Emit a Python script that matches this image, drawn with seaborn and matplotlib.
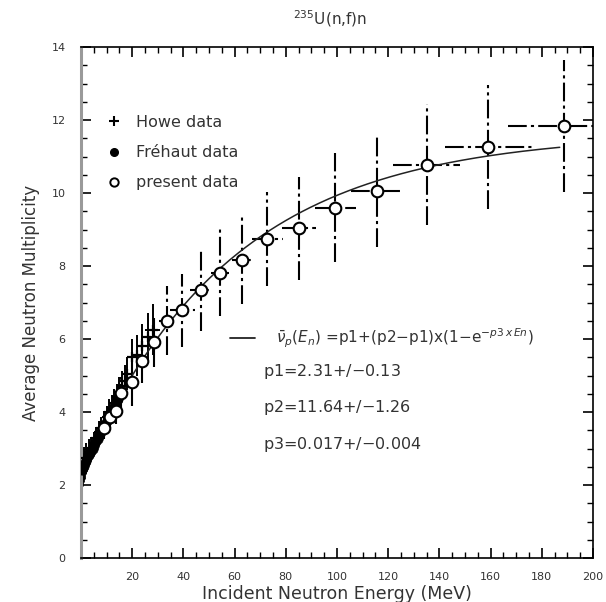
import numpy as np
import pandas as pd
import matplotlib
matplotlib.use("Agg")
import matplotlib.pyplot as plt
from matplotlib.lines import Line2D
from matplotlib.ticker import MultipleLocator
import seaborn as sns

# ---------------- data ----------------
present_E = [9.0, 11.5, 13.6, 15.6, 19.9, 24.0, 28.7, 33.4, 39.6, 46.7, 54.2, 63.0,
             72.8, 85.3, 99.4, 115.6, 135.0, 159.1, 188.8]
present_nu = [3.55, 3.85, 4.02, 4.51, 4.81, 5.40, 5.92, 6.50, 6.79, 7.33, 7.82, 8.16,
              8.74, 9.03, 9.60, 10.06, 10.78, 11.27, 11.84]
present_dE = [0.8, 1.0, 1.2, 1.3, 1.5, 2.0, 2.5, 3.0, 5.0, 4.0, 3.5, 4.0,
              6.0, 6.6, 8.0, 10.0, 13.0, 17.0, 22.0]
present_dnu = [0.30, 0.30, 0.35, 0.45, 0.65, 0.60, 0.70, 0.95, 1.00, 1.10, 1.20, 1.20,
               1.30, 1.40, 1.50, 1.55, 1.65, 1.70, 1.80]

howe_E = [1.0, 2.0, 3.0, 4.0, 5.0, 6.0, 7.0, 8.0, 9.0, 10.0, 11.0, 12.0, 13.0, 14.0,
          15.0, 16.0, 17.0, 18.0, 20.0, 22.0, 24.0, 26.0, 28.0]
howe_nu = [2.60, 2.75, 2.90, 3.02, 3.15, 3.30, 3.45, 3.55, 3.70, 3.85, 4.00, 4.12, 4.25,
           4.40, 4.55, 4.70, 4.85, 5.05, 5.50, 5.55, 5.80, 6.05, 6.25]
howe_dE = [0.5, 0.5, 0.5, 0.5, 0.6, 0.6, 0.7, 0.7, 0.8, 0.8, 0.9, 0.9, 1.0, 1.0,
           1.1, 1.1, 1.2, 1.2, 1.5, 1.5, 2.0, 2.5, 3.0]
howe_dnu = [0.45, 0.40, 0.35, 0.30, 0.30, 0.30, 0.30, 0.30, 0.32, 0.32, 0.35, 0.35, 0.38,
            0.38, 0.40, 0.42, 0.45, 0.45, 0.50, 0.55, 0.60, 0.65, 0.70]

frehaut_E = [0.3, 0.6, 1.0, 1.5, 2.0, 2.5, 3.0, 3.5, 4.0, 4.5, 5.0, 5.5, 6.0, 6.5, 7.0,
             7.5, 8.0, 8.5, 9.0, 9.5, 10.0, 10.5, 11.0, 11.5, 12.0, 12.5, 13.0, 13.5,
             14.0, 14.5]
frehaut_nu = [2.42, 2.47, 2.52, 2.60, 2.66, 2.73, 2.81, 2.87, 2.94, 3.00, 3.08, 3.14, 3.21,
              3.27, 3.35, 3.41, 3.48, 3.55, 3.62, 3.68, 3.76, 3.82, 3.88, 3.96, 4.02,
              4.08, 4.16, 4.22, 4.29, 4.36]
frehaut_dnu = [0.45, 0.40, 0.35, 0.30, 0.28, 0.25, 0.22, 0.20, 0.20, 0.18, 0.18, 0.18,
               0.18, 0.18, 0.18, 0.18, 0.18, 0.18, 0.18, 0.20, 0.20, 0.20, 0.20, 0.22,
               0.22, 0.22, 0.25, 0.25, 0.25, 0.25]

# fit parameters shown on the chart
p1, p2, p3 = 2.31, 11.64, 0.017
fit_E = np.linspace(0.0, 187.0, 300)
fit_nu = p1 + (p2 - p1) * (1 - np.exp(-p3 * fit_E))

x_ticks = [20, 40, 60, 80, 100, 120, 140, 160, 180, 200]
y_ticks = [0, 2, 4, 6, 8, 10, 12, 14]

# ---------------- figure ----------------
sns.set_theme(style="ticks")
plt.rcParams['font.family'] = ['DejaVu Sans']
plt.rcParams['mathtext.fontset'] = 'dejavusans'

fig = plt.figure(figsize=(6.06, 6.02), dpi=100)
ax = fig.add_axes([81 / 606, 1 - 558 / 602, (593 - 81) / 606, (558 - 47) / 602])

txt = '#333333'

# fit curve
sns.lineplot(x=fit_E, y=fit_nu, ax=ax, color='#222222', lw=1.1, zorder=3, legend=False)

# Frehaut data
fr = pd.DataFrame({'E': frehaut_E, 'nu': frehaut_nu, 'dnu': frehaut_dnu})
ax.errorbar(fr.E, fr.nu, yerr=fr.dnu, fmt='none', ecolor='black', elinewidth=2.0, zorder=2)
sns.scatterplot(data=fr, x='E', y='nu', ax=ax, color='black', marker='o', s=45,
                edgecolor='black', zorder=4, legend=False)

# Howe data
hw = pd.DataFrame({'E': howe_E, 'nu': howe_nu, 'dE': howe_dE, 'dnu': howe_dnu})
ax.errorbar(hw.E, hw.nu, xerr=hw.dE, yerr=hw.dnu, fmt='none', ecolor='black',
            elinewidth=1.4, zorder=2)
sns.scatterplot(data=hw, x='E', y='nu', ax=ax, color='black', marker='+', s=55,
                linewidth=1.6, zorder=4, legend=False)

# present data
pr = pd.DataFrame({'E': present_E, 'nu': present_nu, 'dE': present_dE, 'dnu': present_dnu})
eb = ax.errorbar(pr.E, pr.nu, xerr=pr.dE, yerr=pr.dnu, fmt='none', ecolor='black',
                 elinewidth=1.5, zorder=2)
for lc in eb[2]:
    lc.set_linestyle((0, (9, 2, 1.5, 2)))
sns.scatterplot(data=pr, x='E', y='nu', ax=ax, marker='o', s=70, facecolor='white',
                edgecolor='black', linewidth=1.5, zorder=5, legend=False)

# axes setup
ax.set_xlim(0, 200)
ax.set_ylim(0, 14)
ax.set_xticks(x_ticks)
ax.set_yticks(y_ticks)
ax.xaxis.set_minor_locator(MultipleLocator(5))
ax.yaxis.set_minor_locator(MultipleLocator(0.5))
ax.tick_params(which='both', direction='in', top=True, right=True, colors='black',
               labelcolor=txt, labelsize=8)
ax.tick_params(which='major', length=7, width=1.2)
ax.tick_params(which='minor', length=4, width=1.0)
ax.tick_params(axis='x', which='major', pad=10)
ax.tick_params(axis='y', which='major', pad=11)
for s in ['top', 'right', 'bottom']:
    ax.spines[s].set_color('black')
    ax.spines[s].set_linewidth(1.2)
ax.spines['left'].set_color('#9a9a9a')
ax.spines['left'].set_linewidth(2.2)

ax.set_xlabel('Incident Neutron Energy (MeV)', fontsize=12.5, color=txt, labelpad=2)
ax.set_ylabel('Average Neutron Multiplicity', fontsize=12, color=txt, labelpad=8)
fig.text(330 / 606, 1 - 19 / 602, r'$^{235}$U(n,f)n', ha='center', va='center',
         fontsize=11, color=txt)

# legends
handles = [
    Line2D([], [], ls='none', marker='+', color='black', markersize=7, mew=1.5),
    Line2D([], [], ls='none', marker='o', color='black', markersize=5.5),
    Line2D([], [], ls='none', marker='o', markerfacecolor='white', markeredgecolor='black',
           markersize=6, mew=1.4),
]
leg1 = ax.legend(handles, ['Howe data', 'Fréhaut data', 'present data'],
                 loc='upper left', bbox_to_anchor=(0.02, 0.895), frameon=False,
                 fontsize=11.5, handlelength=1.0, handletextpad=0.9, labelspacing=0.95,
                 labelcolor=txt)
ax.add_artist(leg1)

fit_label = r'$\bar{\nu}_{p}(E_{n})$ =p1+(p2$-$p1)x(1$-$e$^{-p3\,x\,En}$)'
leg2 = ax.legend([Line2D([], [], color='#222222', lw=1.3)], [fit_label],
                 loc='center left', bbox_to_anchor=(0.265, 0.43), frameon=False,
                 fontsize=11, handlelength=1.6, handletextpad=1.4, labelcolor=txt)

for i, t in enumerate(['p1=2.31+/$-$0.13', 'p2=11.64+/$-$1.26', 'p3=0.017+/$-$0.004']):
    ax.text(0.355, 0.365 - i * 0.071, t, transform=ax.transAxes, fontsize=11.5,
            color=txt, va='center', ha='left')

fig.savefig('out.png', dpi=100)
